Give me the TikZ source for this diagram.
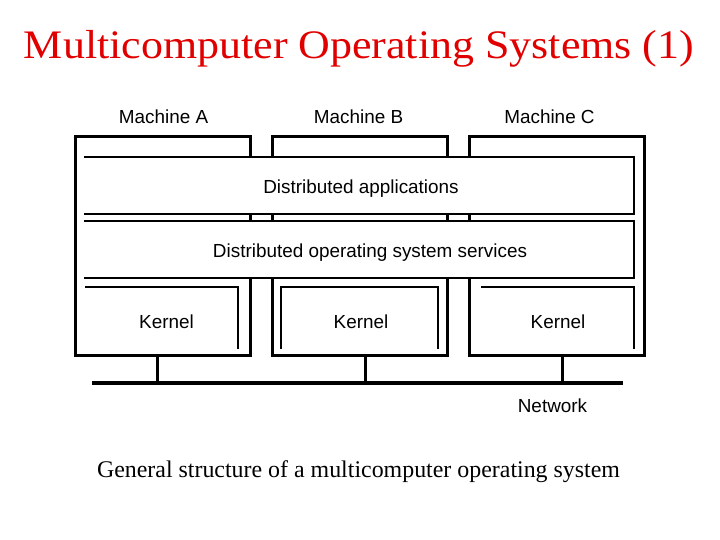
\documentclass[tikz,border=0pt]{standalone}
\usepackage{fontspec}
\setmainfont{Liberation Serif}
\newfontfamily\labelfont{Liberation Sans}
\definecolor{titlered}{RGB}{225,0,0}
\begin{document}
\begin{tikzpicture}[x=1pt,y=-1pt,
  machinebox/.style={draw=black,line width=3pt,minimum width=175pt,minimum height=218pt,anchor=north west,inner sep=0pt,outer sep=0pt},
  layerbox/.style={fill=white,minimum width=550pt,minimum height=57pt,anchor=north west,inner sep=0pt,outer sep=0pt},
  thinline/.style={line width=1.2pt},
  busline/.style={line width=3pt},
  lbl/.style={font=\labelfont\fontsize{18.9}{20}\selectfont,anchor=base,inner sep=0pt}]
\useasboundingbox (0,0) rectangle (720,540);
\node[anchor=base,inner sep=0pt,text=titlered,font=\fontsize{40.5}{44}\selectfont] (title) at (359,58.3) {\scalebox{1.085}[1]{Multicomputer Operating Systems (1)}};
% machines
\node[machinebox] (mA) at (75,137) {};
\node[machinebox] (mB) at (272,137) {};
\node[machinebox] (mC) at (469,137) {};
\node[lbl] (lA) at (163.5,124) {Machine A};
\node[lbl] (lB) at (358.5,124) {Machine B};
\node[lbl] (lC) at (549.5,124) {Machine C};
% layers
\node[layerbox] (apps) at (84,157) {};
\draw[thinline] (apps.north west) -- (apps.north east) -- (apps.south east) -- (apps.south west);
\node[layerbox] (dos) at (84,221) {};
\draw[thinline] (dos.north west) -- (dos.north east) -- (dos.south east) -- (dos.south west);
\node[lbl] (tapps) at (361,194) {Distributed applications};
\node[lbl] (tdos) at (370,258) {Distributed operating system services};
% kernels
\coordinate (kA1) at (85,287); \coordinate (kA2) at (238,287); \coordinate (kA3) at (238,349);
\coordinate (kB0) at (281,349); \coordinate (kB1) at (281,287); \coordinate (kB2) at (438,287); \coordinate (kB3) at (438,349);
\coordinate (kC1) at (481,287); \coordinate (kC2) at (634,287); \coordinate (kC3) at (634,349);
\draw[thinline] (kA1) -- (kA2) -- (kA3);
\draw[thinline] (kB0) -- (kB1) -- (kB2) -- (kB3);
\draw[thinline] (kC1) -- (kC2) -- (kC3);
\node[lbl] (kerA) at (166.5,328) {Kernel};
\node[lbl] (kerB) at (361,328) {Kernel};
\node[lbl] (kerC) at (558,328) {Kernel};
% network
\coordinate (busL) at (92,383);
\coordinate (busR) at (623,383);
\coordinate (dA) at (157,383);
\coordinate (dB) at (365,383);
\coordinate (dC) at (562,383);
\draw[line width=4pt] (busL) -- (busR);
\draw[busline] (dA |- mA.south) -- (dA);
\draw[busline] (dB |- mB.south) -- (dB);
\draw[busline] (dC |- mC.south) -- (dC);
\node[lbl] (net) at (552.5,412) {Network};
% caption
\node[anchor=base,inner sep=0pt,font=\fontsize{23.9}{26}\selectfont] (cap) at (358.5,477) {General structure of a multicomputer operating system};
\end{tikzpicture}
\end{document}
